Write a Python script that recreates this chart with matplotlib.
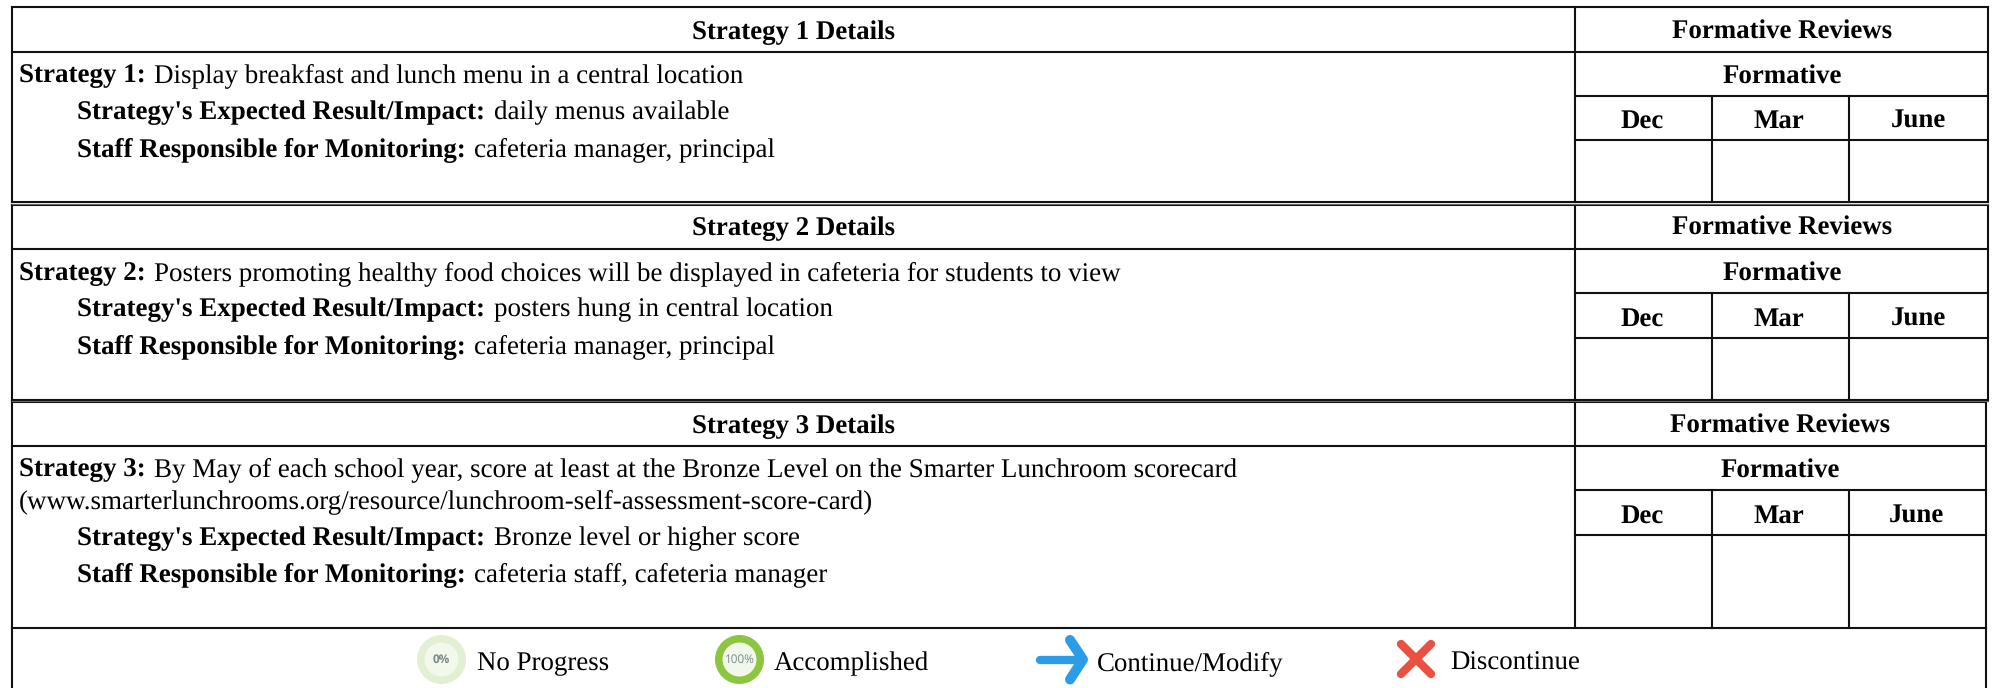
import matplotlib as mpl
mpl.use("Agg")
from matplotlib import pyplot as plt
from matplotlib.patches import Circle

OUT_W, OUT_H = 1993, 688

MONTHS = ["Dec", "Mar", "June"]
STRATEGY_HEADERS = ["Strategy 1 Details", "Strategy 2 Details", "Strategy 3 Details"]
STRATEGY_TEXT = [
    "Display breakfast and lunch menu in a central location",
    "Posters promoting healthy food choices will be displayed in cafeteria for students to view",
    "By May of each school year, score at least at the Bronze Level on the Smarter Lunchroom scorecard",
]
URL_LINE = "(www.smarterlunchrooms.org/resource/lunchroom-self-assessment-score-card)"
EXPECTED_RESULTS = ["daily menus available", "posters hung in central location", "Bronze level or higher score"]
STAFF = ["cafeteria manager, principal", "cafeteria manager, principal", "cafeteria staff, cafeteria manager"]
LEGEND_LABELS = ["No Progress", "Accomplished", "Continue/Modify", "Discontinue"]

# horizontal rules of each block: top, header, formative, months, bottom
TABLE_ROWS = [
    [7, 52, 96, 140, 202.3],
    [204.7, 248.5, 293, 338, 399.7],
    [402.3, 446, 490, 535, 627.5],
]
RIGHT_EDGES = [1988.5, 1988.5, 1986]
LEFT = 12
COL_SPLIT = 1575
MONTH_SPLITS = [1712, 1849]
MONTH_CENTERS = [[1642, 1779, 1918], [1642, 1779, 1918], [1642, 1779, 1916.5]]
BODY_BASELINES = [[82.5, 119.5, 156.5], [280, 316.5, 353.5], [476.5, 545.5, 581.5]]

FS = 19.4
FS_BODY = 19.45
LW = 1.5
INK = "#111111"

plt.rcParams["font.family"] = ["Liberation Serif", "DejaVu Serif"]
plt.rcParams["text.hinting"] = "no_hinting"

fig = plt.figure(figsize=(OUT_W / 100, OUT_H / 100), dpi=100)
ax = fig.add_axes([0, 0, 1, 1])
ax.set_xlim(0, OUT_W)
ax.set_ylim(OUT_H, 0)
ax.axis("off")
renderer = fig.canvas.get_renderer()


def rule(xs, ys, lw=LW, color=INK):
    ax.plot(xs, ys, color=color, lw=lw, solid_capstyle="projecting")


def rich_line(x, y, bold, regular, regular_x=None):
    head = ax.text(x, y, bold, fontsize=FS_BODY, fontweight="bold", va="baseline", color="black")
    if regular_x is None:
        regular_x = head.get_window_extent(renderer).x1 + 8.5
    ax.text(regular_x, y, regular, fontsize=FS_BODY, va="baseline", color="black")


def center(x, y, label):
    ax.text(x, y, label, fontsize=FS, fontweight="bold", ha="center", va="baseline", color="black")


# Strategy blocks
for i, rows in enumerate(TABLE_ROWS):
    top, header, formative, months, bottom = rows
    right = RIGHT_EDGES[i]
    rule([LEFT, right], [top, top])
    rule([LEFT, right], [header, header])
    rule([LEFT, right], [bottom, bottom])
    rule([LEFT, LEFT], [top, bottom])
    rule([right, right], [top, bottom])
    rule([COL_SPLIT, COL_SPLIT], [top, bottom])
    rule([COL_SPLIT, right], [formative, formative])
    rule([COL_SPLIT, right], [months, months])
    for split in MONTH_SPLITS:
        rule([split, split], [formative, bottom])

    center((LEFT + COL_SPLIT) / 2, header - 13.3, STRATEGY_HEADERS[i])
    center((COL_SPLIT + right) / 2, header - 13.3, "Formative Reviews")
    center((COL_SPLIT + right) / 2, formative - 12.3, "Formative")
    for month, mx in zip(MONTHS, MONTH_CENTERS[i]):
        center(mx, months - 12.5, month)

    base = BODY_BASELINES[i]
    rich_line(19, base[0], f"Strategy {i + 1}:", STRATEGY_TEXT[i], regular_x=154.5)
    rich_line(77, base[1], "Strategy's Expected Result/Impact:", EXPECTED_RESULTS[i])
    rich_line(77, base[2], "Staff Responsible for Monitoring:", STAFF[i])

ax.text(19, 508, URL_LINE, fontsize=FS_BODY, va="baseline", color="black")

# grey seam where two blocks touch
rule([LEFT, RIGHT_EDGES[0]], [203.5, 203.5], lw=0.8, color="#666666")
rule([LEFT, RIGHT_EDGES[1]], [401, 401], lw=0.8, color="#666666")

# Legend strip, open at the bottom of the image
rule([LEFT, LEFT], [627.5, OUT_H + 5])
rule([1986, 1986], [627.5, OUT_H + 5])

for cx, ring, inner, pct in [(441.5, "#e2efd2", "#f2f8ec", "0%"), (739.5, "#8cc63f", "#f1f7ea", "100%")]:
    ax.add_patch(Circle((cx, 659.5), 24.5, color=ring, lw=0))
    ax.add_patch(Circle((cx, 659.5), 17, color=inner, lw=0))
    ax.text(cx, 659.5, pct, fontsize=8.5, family="Open Sans", ha="center", va="center",
            color="#7b8a8b", fontweight="bold" if pct == "0%" else "normal")

ax.plot([1040, 1080], [659.5, 659.5], color="#2b9de8", lw=6, solid_capstyle="round")
ax.plot([1070, 1083, 1070], [640, 659.5, 679.5], color="#2b9de8", lw=7.2,
        solid_capstyle="round", solid_joinstyle="round")
ax.plot([1401, 1431], [644, 674], color="#ec5040", lw=6, solid_capstyle="round")
ax.plot([1431, 1401], [644, 674], color="#ec5040", lw=6, solid_capstyle="round")

for label, lx in zip(LEGEND_LABELS, [477, 774, 1097, 1450]):
    ax.text(lx, 670, label, fontsize=FS, va="baseline", color="black")

fig.savefig("out.png", dpi=100)
